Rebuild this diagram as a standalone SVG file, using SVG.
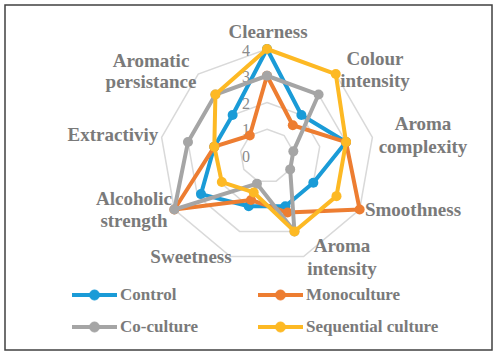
<svg xmlns="http://www.w3.org/2000/svg" width="497" height="353" viewBox="0 0 497 353">
<style>
.lbl{font-family:"Liberation Serif","Times New Roman",serif;font-weight:bold;font-size:19px;fill:#7a7a7a;text-anchor:middle}
.tick{font-family:"Liberation Serif","Times New Roman",serif;font-size:16px;fill:#8a8a8a;text-anchor:end}
.leg{font-family:"Liberation Serif","Times New Roman",serif;font-weight:bold;font-size:17px;fill:#7a7a7a}
.grid{fill:none;stroke:#d9d9d9;stroke-width:1.5}
.s{fill:none;stroke-width:4;stroke-linejoin:round}
.blue{stroke:#1a9bd7}.blue circle,circle.blue{fill:#1a9bd7}
.orange{stroke:#ed7d31}.orange circle,circle.orange{fill:#ed7d31}
.gray{stroke:#a5a5a5}.gray circle,circle.gray{fill:#a5a5a5}
.yellow{stroke:#fdb924}.yellow circle,circle.yellow{fill:#fdb924}
circle{stroke:none}
</style>
<rect x="5" y="5" width="487" height="345" fill="#ffffff" stroke="#404040" stroke-width="1.5"/>
<g id="grid">
<polygon class="grid" points="267,129.25 284.20,135.51 293.34,151.36 290.17,169.38 276.15,181.14 257.85,181.14 243.83,169.38 240.66,151.36 249.80,135.51"/>
<polygon class="grid" points="267,102.5 301.39,115.02 319.69,146.71 313.33,182.75 285.30,206.27 248.70,206.27 220.67,182.75 214.31,146.71 232.61,115.02"/>
<polygon class="grid" points="267,75.75 318.59,94.53 346.03,142.07 336.50,196.13 294.45,231.41 239.55,231.41 197.50,196.13 187.97,142.07 215.42,94.53"/>
<polygon class="grid" points="267,49 335.78,74.04 372.38,137.42 359.66,209.5 303.60,256.55 230.40,256.55 174.34,209.5 161.62,137.42 198.22,74.04"/>
</g>
<g id="ticks">
<text class="tick" x="250" y="55.5">4</text>
<text class="tick" x="250" y="82">3</text>
<text class="tick" x="250" y="108.5">2</text>
<text class="tick" x="250" y="135">1</text>
<text class="tick" x="250" y="162">0</text>
</g>
<g id="connectors">
<g id="series-control" class="blue">
<polygon class="s blue" points="267,49 301.39,115.02 346.03,142.07 313.33,182.75 285.30,206.27 248.70,206.27 200.98,194.12 214.31,146.71 232.61,115.02"/>
<circle cx="267" cy="49" r="5"/><circle cx="301.39" cy="115.02" r="5"/><circle cx="346.03" cy="142.07" r="5"/><circle cx="313.33" cy="182.75" r="5"/><circle cx="285.30" cy="206.27" r="5"/><circle cx="248.70" cy="206.27" r="5"/><circle cx="200.98" cy="194.12" r="5"/><circle cx="214.31" cy="146.71" r="5"/><circle cx="232.61" cy="115.02" r="5"/>
</g>
<g id="series-monoculture" class="orange">
<polygon class="s orange" points="267,75.75 292.79,125.26 346.03,142.07 359.66,209.5 287.59,212.56 250.99,199.99 174.34,209.5 214.31,146.71 249.80,135.51"/>
<circle cx="267" cy="75.75" r="5"/><circle cx="292.79" cy="125.26" r="5"/><circle cx="346.03" cy="142.07" r="5"/><circle cx="359.66" cy="209.5" r="5"/><circle cx="287.59" cy="212.56" r="5"/><circle cx="250.99" cy="199.99" r="5"/><circle cx="174.34" cy="209.5" r="5"/><circle cx="214.31" cy="146.71" r="5"/><circle cx="249.80" cy="135.51" r="5"/>
</g>
<g id="series-coculture" class="gray">
<polygon class="s gray" points="267,75.75 318.59,94.53 293.34,151.36 290.17,169.38 294.45,231.41 256.94,183.65 174.34,209.5 187.97,142.07 215.42,94.53"/>
<circle cx="267" cy="75.75" r="5"/><circle cx="318.59" cy="94.53" r="5"/><circle cx="293.34" cy="151.36" r="5"/><circle cx="290.17" cy="169.38" r="5"/><circle cx="294.45" cy="231.41" r="5"/><circle cx="256.94" cy="183.65" r="5"/><circle cx="174.34" cy="209.5" r="5"/><circle cx="187.97" cy="142.07" r="5"/><circle cx="215.42" cy="94.53" r="5"/>
</g>
<g id="series-sequential" class="yellow">
<polygon class="s yellow" points="267,49 335.78,74.04 346.03,142.07 336.50,196.13 294.45,231.41 253.73,192.45 221.82,182.08 214.31,146.71 215.42,94.53"/>
<circle cx="267" cy="49" r="5"/><circle cx="335.78" cy="74.04" r="5"/><circle cx="346.03" cy="142.07" r="5"/><circle cx="336.50" cy="196.13" r="5"/><circle cx="294.45" cy="231.41" r="5"/><circle cx="253.73" cy="192.45" r="5"/><circle cx="221.82" cy="182.08" r="5"/><circle cx="214.31" cy="146.71" r="5"/><circle cx="215.42" cy="94.53" r="5"/>
</g>
</g>
<g id="axis-clearness"><text class="lbl" x="268" y="38">Clearness</text></g>
<g id="axis-colour"><text class="lbl" x="375" y="65">Colour</text><text class="lbl" x="375" y="87">intensity</text></g>
<g id="axis-aroma-complexity"><text class="lbl" x="423" y="130">Aroma</text><text class="lbl" x="423" y="153">complexity</text></g>
<g id="axis-smoothness"><text class="lbl" x="413" y="216">Smoothness</text></g>
<g id="axis-aroma-intensity"><text class="lbl" x="342" y="252">Aroma</text><text class="lbl" x="342" y="275">intensity</text></g>
<g id="axis-sweetness"><text class="lbl" x="191" y="263">Sweetness</text></g>
<g id="axis-alcoholic"><text class="lbl" x="134" y="205">Alcoholic</text><text class="lbl" x="134" y="227">strength</text></g>
<g id="axis-extractiviy"><text class="lbl" x="113" y="141">Extractiviy</text></g>
<g id="axis-persistance"><text class="lbl" x="151" y="67">Aromatic</text><text class="lbl" x="151" y="88">persistance</text></g>
<g id="legend">
<line class="s blue" x1="72" y1="295" x2="117" y2="295"/><circle class="blue" cx="94.5" cy="295" r="5"/><text class="leg" x="120" y="300">Control</text>
<line class="s orange" x1="258" y1="295" x2="303" y2="295"/><circle class="orange" cx="280.5" cy="295" r="5"/><text class="leg" x="306" y="300">Monoculture</text>
<line class="s gray" x1="72" y1="327" x2="117" y2="327"/><circle class="gray" cx="94.5" cy="327" r="5"/><text class="leg" x="120" y="332">Co-culture</text>
<line class="s yellow" x1="258" y1="327" x2="303" y2="327"/><circle class="yellow" cx="280.5" cy="327" r="5"/><text class="leg" x="306" y="332">Sequential culture</text>
</g>
</svg>
